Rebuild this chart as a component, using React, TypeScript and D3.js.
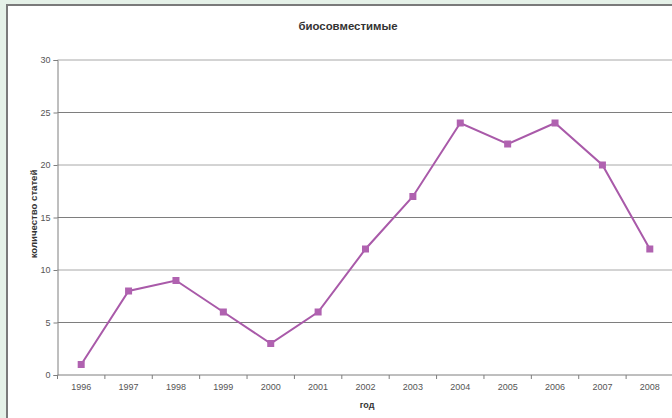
import React, { useEffect, useRef } from "react";
import * as d3 from "d3";

const years = ["1996", "1997", "1998", "1999", "2000", "2001", "2002", "2003", "2004", "2005", "2006", "2007", "2008"];
const articles = [1, 8, 9, 6, 3, 6, 12, 17, 24, 22, 24, 20, 12];
const yTicks = [0, 5, 10, 15, 20, 25, 30];
const chartTitle = "биосовместимые";
const xTitle = "год";
const yTitle = "количество статей";

const W = 672;
const H = 418;
const M = { left: 57.5, right: -1.5, top: 60, bottom: 43 };

export default function App() {
  const ref = useRef<SVGSVGElement>(null);

  useEffect(() => {
    const svg = d3.select(ref.current);
    svg.selectAll("*").remove();
    const font = "'Liberation Sans', Arial, sans-serif";

    // outer frame
    svg.append("rect").attr("width", W).attr("height", H).attr("fill", "#e5f1e8");
    svg.append("rect").attr("x", 7).attr("y", 5).attr("width", W).attr("height", H).attr("fill", "#ffffff");
    svg.append("line").attr("x1", 7).attr("x2", W).attr("y1", 5).attr("y2", 5).attr("stroke", "#7a7a7a").attr("stroke-width", 2);
    svg.append("line").attr("x1", 7).attr("x2", 7).attr("y1", 4).attr("y2", H).attr("stroke", "#7a7a7a").attr("stroke-width", 2);

    const x = d3.scaleBand<string>().domain(years).range([M.left, W - M.right]);
    const y = d3.scaleLinear().domain([0, 30]).range([H - M.bottom, M.top]);

    // gridlines
    svg.append("g").selectAll("line").data(yTicks.filter((t) => t > 0)).join("line")
      .attr("x1", M.left).attr("x2", W)
      .attr("y1", (d) => y(d)).attr("y2", (d) => y(d))
      .attr("stroke", (d) => (d % 10 === 0 ? "#a8a8a8" : "#7e7e7e")).attr("stroke-width", 1);

    // y axis
    const ya = svg.append("g").attr("transform", `translate(${M.left},0)`)
      .call(d3.axisLeft(y).tickValues(yTicks).tickSize(4).tickPadding(3));
    ya.select(".domain").attr("stroke", "#7e7e7e");
    ya.selectAll(".tick line").attr("stroke", "#7e7e7e");
    ya.selectAll("text").attr("font-family", font).attr("font-size", 9).attr("fill", "#555");

    // x axis with ticks at category boundaries
    const xa = svg.append("g").attr("transform", `translate(0,${y(0)})`);
    xa.append("line").attr("x1", M.left).attr("x2", W).attr("stroke", "#7e7e7e");
    xa.selectAll("line.tk").data(years).join("line").attr("class", "tk")
      .attr("x1", (d) => x(d)!).attr("x2", (d) => x(d)!).attr("y1", 0).attr("y2", 4)
      .attr("stroke", "#7e7e7e");
    xa.selectAll("text").data(years).join("text")
      .attr("x", (d) => x(d)! + x.bandwidth() / 2).attr("y", 15)
      .attr("text-anchor", "middle").attr("font-family", font).attr("font-size", 9).attr("fill", "#555")
      .text((d) => d);

    // series
    const pts = years.map((yr, i) => [x(yr)! + x.bandwidth() / 2, y(articles[i])] as [number, number]);
    svg.append("path").attr("d", d3.line()(pts)).attr("fill", "none")
      .attr("stroke", "#a95aa9").attr("stroke-width", 2);
    svg.append("g").selectAll("rect").data(pts).join("rect")
      .attr("x", (d) => d[0] - 3.5).attr("y", (d) => d[1] - 3.5)
      .attr("width", 7).attr("height", 7).attr("fill", "#b062b0");

    // titles
    svg.append("text").attr("x", 348).attr("y", 30).attr("text-anchor", "middle")
      .attr("font-family", font).attr("font-size", 11.4).attr("font-weight", "bold").attr("fill", "#333")
      .text(chartTitle);
    svg.append("text").attr("x", 367).attr("y", 408).attr("text-anchor", "middle")
      .attr("font-family", font).attr("font-size", 9).attr("font-weight", "bold").attr("fill", "#333")
      .text(xTitle);
    svg.append("text").attr("transform", `translate(37,214) rotate(-90)`).attr("text-anchor", "middle")
      .attr("font-family", font).attr("font-size", 9.6).attr("font-weight", "bold").attr("fill", "#333")
      .text(yTitle);
  }, []);

  return <svg ref={ref} width={W} height={H} style={{ position: "absolute", left: 0, top: 0 }} />;
}
